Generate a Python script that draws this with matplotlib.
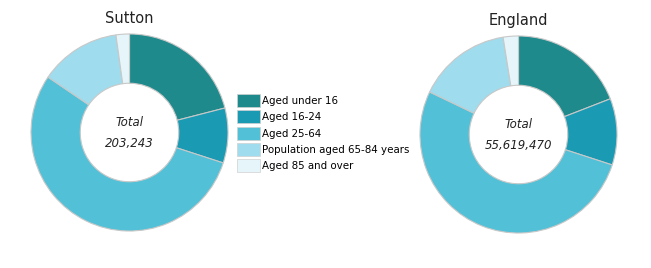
import matplotlib.pyplot as plt

# age group shares (%)
groups = ['Aged under 16', 'Aged 16-24', 'Aged 25-64',
          'Population aged 65-84 years', 'Aged 85 and over']
sutton = [21.0, 9.0, 54.5, 13.3, 2.2]
england = [19.1, 10.9, 52.1, 15.4, 2.5]
areas = ['Sutton', 'England']
totals = ['203,243', '55,619,470']

colors = ['#1f8a8c', '#1a9bb3', '#52c0d6', '#9fdcee', '#e6f5fa']

fig = plt.figure(figsize=(6.51, 2.68), dpi=100)

# axes positions in figure fractions
ax1 = fig.add_axes([30 / 651, 1 - 232 / 268, 199 / 651, 199 / 268])
ax2 = fig.add_axes([419 / 651, 1 - 234 / 268, 199 / 651, 199 / 268])

for ax, vals, name, tot in zip([ax1, ax2], [sutton, england], areas, totals):
    ax.pie(vals, colors=colors, startangle=90, counterclock=False, radius=1.0,
           wedgeprops=dict(width=0.5, edgecolor='#c8c8c8', linewidth=0.8))
    ax.set_xlim(-1.01, 1.01)
    ax.set_ylim(-1.01, 1.01)
    ax.set_aspect('equal')
    ax.text(0, 0.1, 'Total', ha='center', va='center', fontsize=8.5,
            style='italic', color='#222222')
    ax.text(0, -0.11, tot, ha='center', va='center', fontsize=8.5,
            style='italic', color='#222222')
    ax.set_title(name, fontsize=10.5, color='#222222', pad=7)

handles = [plt.Rectangle((0, 0), 1, 1, facecolor=c, edgecolor='#d0d0d0', linewidth=0.5)
           for c in colors]
fig.legend(handles, groups, loc='upper left', bbox_to_anchor=(237 / 651, 1 - 94 / 268),
           frameon=False, fontsize=7.4, handlelength=2.2, handleheight=1.6,
           handletextpad=0.25, labelspacing=0.3, borderaxespad=0, borderpad=0)

plt.savefig('out.png', dpi=100)
